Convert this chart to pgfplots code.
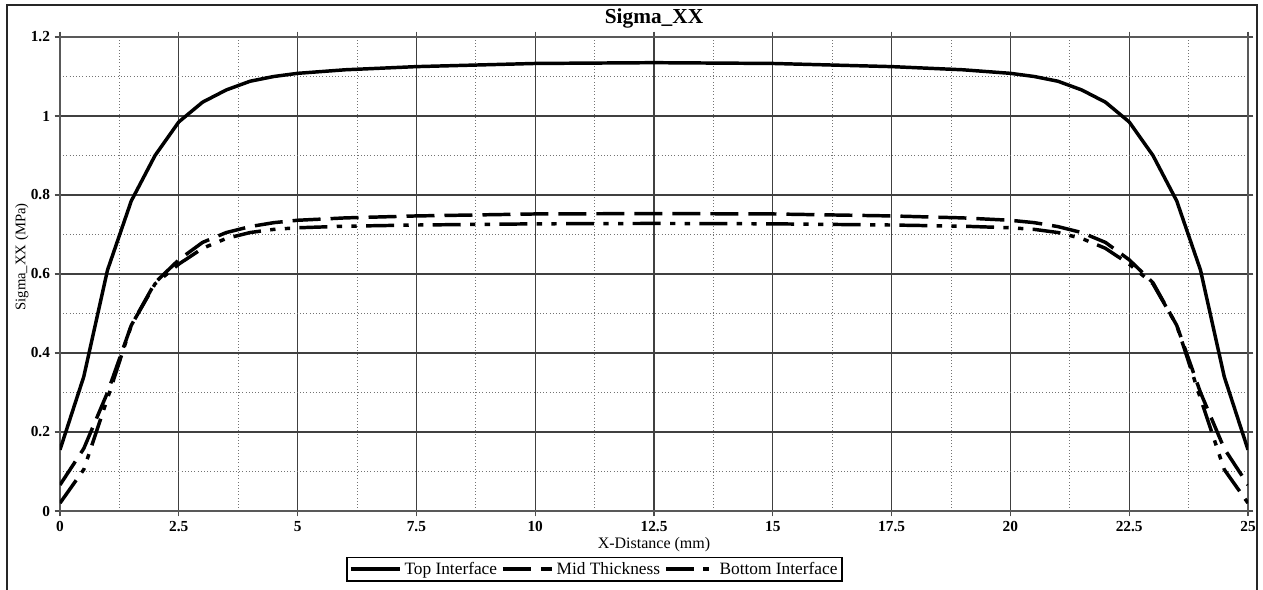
\documentclass[border=0pt]{standalone}
\usepackage{fontspec}
\setmainfont{Liberation Serif}
\usepackage{pgfplots}
\pgfplotsset{compat=1.18}

\pgfplotstableread{
x top mid bot
0 0.155 0.066 0.020
0.5 0.340 0.158 0.105
1 0.610 0.300 0.285
1.5 0.785 0.470 0.470
2 0.900 0.578 0.575
2.5 0.985 0.636 0.625
3 1.035 0.680 0.665
3.5 1.066 0.705 0.690
4 1.088 0.720 0.705
4.5 1.100 0.730 0.713
5 1.108 0.736 0.717
6 1.117 0.742 0.721
7.5 1.125 0.747 0.724
10 1.133 0.752 0.727
12.5 1.135 0.753 0.728
15 1.133 0.752 0.727
17.5 1.125 0.747 0.724
19 1.117 0.742 0.721
20 1.108 0.736 0.717
20.5 1.100 0.730 0.713
21 1.088 0.720 0.705
21.5 1.066 0.705 0.690
22 1.035 0.680 0.665
22.5 0.985 0.636 0.625
23 0.900 0.578 0.575
23.5 0.785 0.470 0.470
24 0.610 0.300 0.285
24.5 0.340 0.158 0.105
25 0.155 0.066 0.020
}\sigmaxx

\begin{document}
\begin{tikzpicture}
\useasboundingbox (-45pt,-58.5pt) rectangle (902.25pt,383.25pt);
\begin{axis}[
  at={(0,0)}, anchor=south west,
  scale only axis, width=891pt, height=355.5pt,
  xmin=0, xmax=25, ymin=0, ymax=1.2,
  xtick={0,2.5,5,7.5,10,12.5,15,17.5,20,22.5,25},
  ytick={0,0.2,0.4,0.6,0.8,1,1.2},
  minor x tick num=1, minor y tick num=1,
  grid=both,
  major grid style={black!75, line width=0.9pt},
  minor grid style={black!55, dotted, line width=0.7pt},
  axis line style={black!65, line width=1.1pt},
  tick align=outside, major tick length=4pt, minor tick length=0pt,
  tick style={black!70, line width=0.8pt},
  /pgf/number format/assume math mode=true,
  /pgf/number format/fixed,
  tick label style={font=\bfseries\fontsize{11.5}{12}\selectfont},
  title={Sigma\_XX},
  title style={at={(axis description cs:0.5,1)}, anchor=center, yshift=8pt,
    font=\bfseries\fontsize{16}{18}\selectfont},
  xlabel={X-Distance (mm)},
  xlabel style={at={(axis description cs:0.5,0)}, anchor=center, yshift=-25pt,
    font=\fontsize{12}{13}\selectfont},
  ylabel={Sigma\_XX (MPa)},
  ylabel style={at={(axis description cs:-0.032,0.536)}, anchor=center,
    font=\fontsize{11}{12}\selectfont},
  legend columns=3,
  legend style={at={(axis description cs:0.45,0)}, anchor=center, yshift=-43.5pt,
    draw=black, line width=1.1pt, inner sep=1.5pt,
    font=\fontsize{13}{14}\selectfont,
    /tikz/every even column/.append style={column sep=1pt}},
  legend image code/.code={\draw[#1] (0pt,0pt) -- (37pt,0pt);},
]
\addplot[black, line width=2.6pt, line join=round] table[x=x, y=top] {\sigmaxx};
\addlegendentry{Top Interface}
\addplot[black, line width=2.6pt, line cap=butt, dash pattern=on 21pt off 7.5pt] table[x=x, y=mid] {\sigmaxx};
\addlegendentry{Mid Thickness}
\addplot[black, line width=2.6pt, line cap=butt,
  dash pattern=on 21pt off 7pt on 4pt off 7pt on 4pt off 7pt] table[x=x, y=bot] {\sigmaxx};
\addlegendentry{Bottom Interface}
\end{axis}
\draw[black!85, line width=1.5pt] (-39.75pt,-70pt) -- (-39.75pt,379.5pt) -- (897.75pt,379.5pt) -- (897.75pt,-70pt);
\end{tikzpicture}
\end{document}
